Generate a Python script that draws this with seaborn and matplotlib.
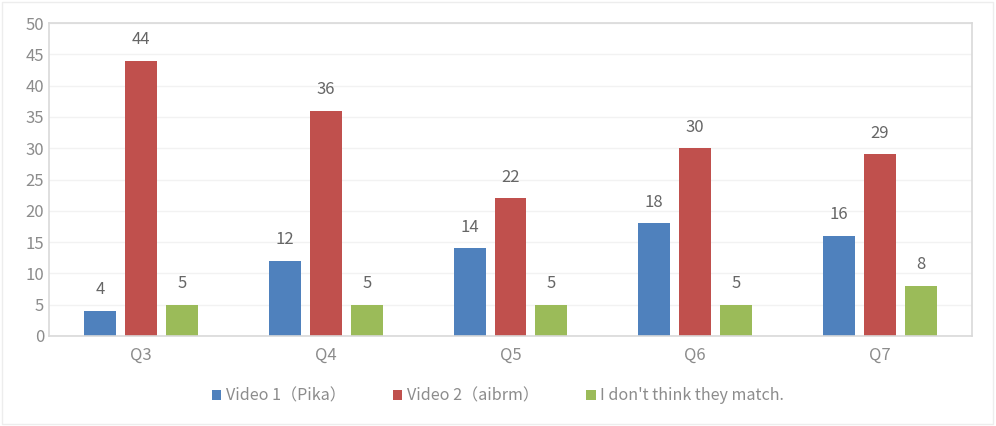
import matplotlib
matplotlib.use("Agg")
import matplotlib.pyplot as plt
import seaborn as sns
import pandas as pd

questions = ["Q3", "Q4", "Q5", "Q6", "Q7"]
series = ["Video 1（Pika）", "Video 2（aibrm）", "I don't think they match."]
pika = [4, 12, 14, 18, 16]
aibrm = [44, 36, 22, 30, 29]
no_match = [5, 5, 5, 5, 8]
colors = ["#4F81BD", "#C0504D", "#9BBB59"]

df = pd.DataFrame({
    "question": questions * 3,
    "answer": [series[0]] * 5 + [series[1]] * 5 + [series[2]] * 5,
    "count": pika + aibrm + no_match,
})

sns.set_style("white")
plt.rcParams["font.family"] = ["Noto Sans CJK SC", "DejaVu Sans"]

fig = plt.figure(figsize=(9.96, 4.26), dpi=100)
ax = fig.add_axes([49 / 996, 1 - 336 / 426, (972 - 49) / 996, (336 - 23) / 426])

sns.barplot(data=df, x="question", y="count", hue="answer", palette=colors,
            width=0.666, gap=0.22, ax=ax, saturation=1, linewidth=0)

for cont in ax.containers:
    ax.bar_label(cont, padding=9, fontsize=12, color="#666666")

ax.set_ylim(0, 50)
ax.set_yticks(range(0, 51, 5))
ax.set_xlim(-0.5, 4.5)
ax.yaxis.grid(True, color="#F2F2F2", linewidth=1)
ax.set_axisbelow(True)
ax.set_xlabel("")
ax.set_ylabel("")
ax.tick_params(axis="both", length=0, labelsize=12, labelcolor="#8C8C8C")
ax.tick_params(axis="x", pad=8)
for s in ax.spines.values():
    s.set_color("#D9D9D9")
    s.set_linewidth(1.2)

handles, labels = ax.get_legend_handles_labels()
ax.legend(handles, labels, loc="center", bbox_to_anchor=(0.5, 1 - 396 / 426),
          bbox_transform=fig.transFigure, ncol=3, frameon=False,
          fontsize=11.6, labelcolor="#8C8C8C", handlelength=0.6, handleheight=0.6,
          handletextpad=0.3, columnspacing=2.9)

fig.patches.append(plt.Rectangle((0.002, 0.004), 0.995, 0.992, transform=fig.transFigure,
                                 fill=False, edgecolor="#EDEDED", linewidth=1))

fig.savefig("out.png", dpi=100)
